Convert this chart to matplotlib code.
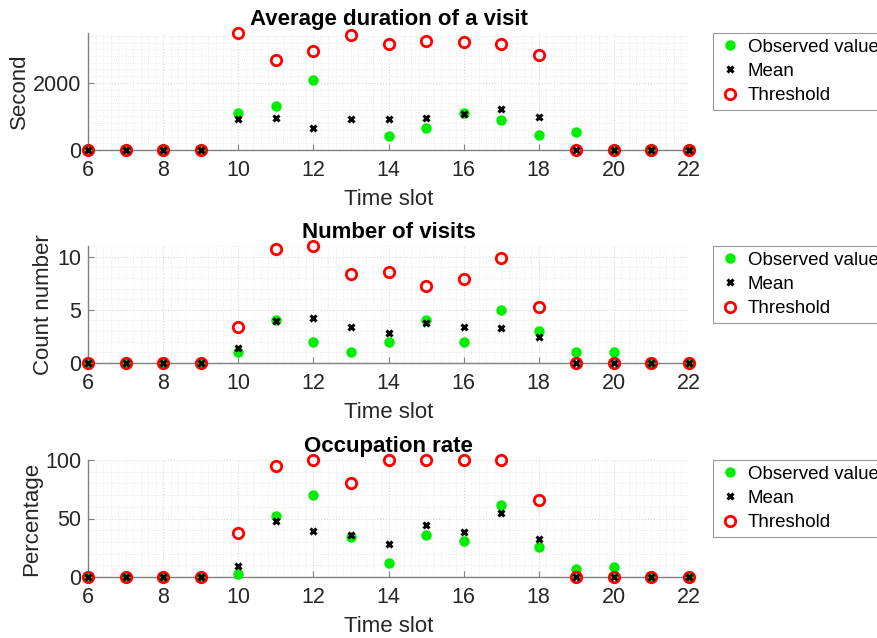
import numpy as np
import matplotlib
matplotlib.use("Agg")
import matplotlib.pyplot as plt
from matplotlib.ticker import MultipleLocator

plt.rcParams['font.family'] = ['Liberation Sans', 'DejaVu Sans']

slots = list(range(6, 23))
nan = np.nan

dur_obs = [0, 0, 0, 0, 1089, 1297, 2079, nan, 416, 644, 1109, 900, 445, 535, 0, 0, 0]
dur_mean = [0, 0, 0, 0, 921, 941, 644, 921, 921, 960, 1069, 1208, 970, 0, 0, 0, 0]
dur_thr = [0, 0, 0, 0, 3484, 2673, 2960, 3415, 3157, 3237, 3217, 3157, 2842, 0, 0, 0, 0]

vis_obs = [0, 0, 0, 0, 1, 4, 2, 1, 2, 4, 2, 5, 3, 1, 1, 0, 0]
vis_mean = [0, 0, 0, 0, 1.4, 3.97, 4.19, 3.41, 2.78, 3.75, 3.375, 3.28, 2.4, 0, 0, 0, 0]
vis_thr = [0, 0, 0, 0, 3.41, 10.75, 11.0, 8.34, 8.59, 7.25, 7.94, 9.875, 5.28, 0, 0, 0, 0]

occ_obs = [0, 0, 0, 0, 2.5, 52.1, 70.5, 34.6, 11.6, 35.7, 30.6, 61.8, 25.5, 6.8, 8.5, 0, 0]
occ_mean = [0, 0, 0, 0, 9.3, 47.6, 39.4, 35.7, 28.3, 44.8, 38.8, 54.7, 32.3, 0, 0, 0, 0]
occ_thr = [0, 0, 0, 0, 37.7, 94.9, 100, 80.5, 100, 100, 100, 100, 65.7, 0, 0, 0, 0]

titles = ["Average duration of a visit", "Number of visits", "Occupation rate"]
ylabels = ["Second", "Count number", "Percentage"]
xlabel = "Time slot"
legend_labels = ["Observed value", "Mean", "Threshold"]
xticks = [6, 8, 10, 12, 14, 16, 18, 20, 22]

panels = [
    (dur_obs, dur_mean, dur_thr, [0, 2000], 200, (0, 3484)),
    (vis_obs, vis_mean, vis_thr, [0, 5, 10], 1, (0, 11.0)),
    (occ_obs, occ_mean, occ_thr, [0, 50, 100], 10, (0, 100)),
]

fig = plt.figure(figsize=(8.78, 6.38), dpi=100)
W, H = 878, 638
tops = [33, 246, 460]
ax_h = 117
left_px, right_px = 88, 689

axis_col = '#262626'
for i, (obs, mean, thr, yt, yminor, ylim) in enumerate(panels):
    ax = fig.add_axes([left_px / W, 1 - (tops[i] + ax_h) / H,
                       (right_px - left_px) / W, ax_h / H])
    h1, = ax.plot(slots, obs, 'o', color='#00ee00', markersize=6.5,
                  linestyle='none', zorder=3, label=legend_labels[0])
    h3, = ax.plot(slots, thr, 'o', markerfacecolor='none', markeredgecolor='#ff0000',
                  markeredgewidth=2, markersize=7.5, linestyle='none', zorder=4,
                  label=legend_labels[2])
    h2, = ax.plot(slots, mean, 'x', color='black', markeredgewidth=2.2, markersize=5,
                  linestyle='none', zorder=5, label=legend_labels[1])
    ax.set_xlim(6, 22)
    ax.set_ylim(*ylim)
    ax.set_xticks(xticks)
    ax.set_yticks(yt)
    ax.xaxis.set_minor_locator(MultipleLocator(0.2))
    ax.yaxis.set_minor_locator(MultipleLocator(yminor))
    ax.grid(True, which='major', color='#d8d8d8', linestyle=':', linewidth=0.8)
    ax.grid(True, which='minor', color='#e6e6e6', linestyle=':', linewidth=0.6)
    ax.set_axisbelow(True)
    for s in ['top', 'right']:
        ax.spines[s].set_visible(False)
    for s in ['left', 'bottom']:
        ax.spines[s].set_color('#808080')
        ax.spines[s].set_linewidth(1.0)
    ax.tick_params(which='major', direction='in', length=4, color='#808080',
                   labelsize=15.5, labelcolor=axis_col)
    ax.tick_params(axis='x', pad=7)
    ax.tick_params(axis='y', pad=5)
    ax.tick_params(which='minor', length=0)
    ax.set_title(titles[i], fontsize=16, fontweight='bold', pad=6)
    ax.set_xlabel(xlabel, fontsize=16, color=axis_col, labelpad=6)
    ax.set_ylabel(ylabels[i], fontsize=16, color=axis_col, labelpad=2)
    for sp in ax.spines.values():
        sp.set_clip_on(False)
    for ln in (h1, h2, h3):
        ln.set_clip_on(False)
    leg = ax.legend(handles=[h1, h2, h3], loc='upper left',
                    bbox_to_anchor=((713 - left_px) / (right_px - left_px), 1.0),
                    fontsize=13.5, frameon=True, fancybox=False, edgecolor='#808080',
                    handlelength=1.2, handletextpad=0.35, borderaxespad=0,
                    labelspacing=0.38, borderpad=0.3)
    leg.get_frame().set_linewidth(0.8)

fig.savefig("out.png", dpi=100)
